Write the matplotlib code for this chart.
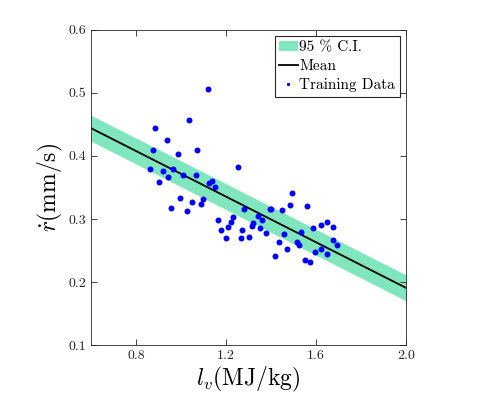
import numpy as np
import matplotlib
matplotlib.use('Agg')
import matplotlib.pyplot as plt

plt.rcParams['font.family'] = 'serif'
plt.rcParams['font.serif'] = ['cmr10', 'DejaVu Serif']
plt.rcParams['mathtext.fontset'] = 'cm'
plt.rcParams['axes.formatter.use_mathtext'] = True

# training data
lv = [0.862, 0.874, 0.886, 0.901, 0.922, 0.937, 0.943, 0.954, 0.966, 0.987,
      0.996, 1.011, 1.029, 1.037, 1.049, 1.067, 1.073, 1.088, 1.097, 1.120,
      1.123, 1.138, 1.150, 1.165, 1.177, 1.201, 1.209, 1.221, 1.230, 1.254,
      1.266, 1.272, 1.281, 1.301, 1.316, 1.322, 1.343, 1.352, 1.361, 1.378,
      1.396, 1.402, 1.420, 1.435, 1.450, 1.459, 1.473, 1.485, 1.494, 1.515,
      1.527, 1.536, 1.550, 1.562, 1.574, 1.589, 1.598, 1.622, 1.625, 1.648,
      1.648, 1.675, 1.678, 1.693]
rdot = [0.380, 0.410, 0.445, 0.358, 0.376, 0.425, 0.366, 0.318, 0.380, 0.403,
        0.333, 0.369, 0.313, 0.457, 0.327, 0.369, 0.410, 0.323, 0.332, 0.506,
        0.357, 0.361, 0.350, 0.298, 0.282, 0.270, 0.287, 0.296, 0.303, 0.383,
        0.270, 0.282, 0.316, 0.272, 0.289, 0.294, 0.305, 0.285, 0.299, 0.278,
        0.316, 0.316, 0.242, 0.263, 0.314, 0.276, 0.253, 0.322, 0.342, 0.263,
        0.259, 0.280, 0.235, 0.320, 0.231, 0.285, 0.248, 0.290, 0.253, 0.295,
        0.245, 0.287, 0.266, 0.259]

# mean line end points and CI half width
x_line = [0.6, 2.0]
mean_line = [0.444, 0.191]
ci_half = 0.0205

fig = plt.figure(figsize=(4.79, 3.98), dpi=100)
ax = fig.add_axes([0.190, 0.133, 0.657, 0.792])

mean_arr = np.array(mean_line)
ax.fill_between(x_line, mean_arr - ci_half, mean_arr + ci_half,
                color='#7fe6be', linewidth=0, label='95 % C.I.')
ax.plot(x_line, mean_line, color='black', linewidth=1.3, label='Mean')
ax.plot(lv, rdot, 'o', color='#0000ff', markersize=4.3, markeredgewidth=0,
        label='Training Data')

ax.set_xlim(0.6, 2.0)
ax.set_ylim(0.1, 0.6)
ax.set_xticks([0.8, 1.2, 1.6, 2.0])
ax.set_xticklabels(['0.8', '1.2', '1.6', '2.0'])
ax.set_yticks([0.1, 0.2, 0.3, 0.4, 0.5, 0.6])
ax.set_yticklabels(['0.1', '0.2', '0.3', '0.4', '0.5', '0.6'])
ax.tick_params(direction='in', top=True, right=True, labelsize=10,
               length=4, width=0.6, colors='#262626', labelcolor='#262626')
for s in ax.spines.values():
    s.set_color('#262626')
    s.set_linewidth(0.6)

ax.set_xlabel(r'$l_v\mathrm{(MJ/kg)}$', fontsize=17, labelpad=2)
ax.set_ylabel(r'$\dot{r}\mathrm{(mm/s)}$', fontsize=17, labelpad=2)

leg = ax.legend(loc='upper right', fontsize=11, fancybox=False,
                edgecolor='#262626', framealpha=1, borderpad=0.3,
                handlelength=1.2, handletextpad=0.1, labelspacing=0.33,
                borderaxespad=0.4, markerscale=0.55)
leg.get_frame().set_linewidth(0.8)

fig.savefig('out.png', dpi=100)
